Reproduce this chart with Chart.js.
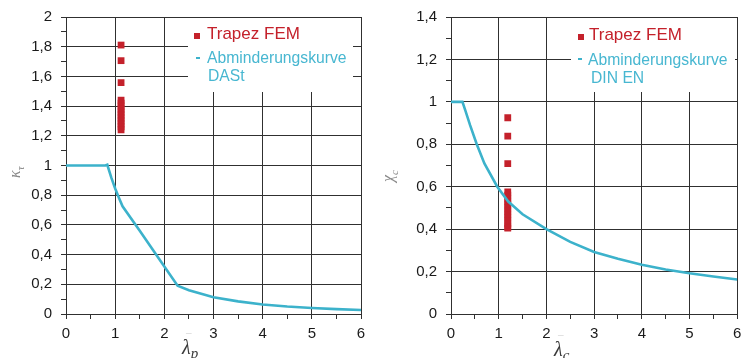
<!DOCTYPE html>
<html><head><meta charset="utf-8">
<script src="https://cdn.jsdelivr.net/npm/chart.js@4"></script>
<style>
html,body{margin:0;padding:0;background:#fff;width:742px;height:358px;overflow:hidden}
.c{position:absolute;top:0;width:371px;height:358px}
</style></head><body>
<div class="c" style="left:0"><canvas id="c1" width="371" height="358"></canvas></div>
<div class="c" style="left:371px"><canvas id="c2" width="371" height="358"></canvas></div>
<script>
// ---- data ----
const dastX = [0, 0.8, 0.84, 0.92, 1.0, 1.08, 1.15, 1.5, 2.0, 2.27, 2.5, 3.0, 3.5, 4.0, 4.5, 5.0, 5.5, 6.0];
const dastY = [1.0, 1.0, 1.005, 0.92, 0.845, 0.78, 0.725, 0.56, 0.32, 0.19, 0.16, 0.113, 0.085, 0.064, 0.05, 0.04, 0.033, 0.027];
const femLeftX = 1.12;
const femLeftY = [1.811, 1.706, 1.558, 1.44, 1.42, 1.40, 1.38, 1.36, 1.34, 1.32, 1.30, 1.28, 1.26, 1.24];

const enX = [0, 0.24, 0.3, 0.4, 0.54, 0.7, 0.97, 1.2, 1.5, 2.0, 2.5, 3.0, 3.5, 4.0, 4.5, 5.0, 5.5, 6.0];
const enY = [1.0, 1.0, 0.96, 0.89, 0.8, 0.71, 0.6, 0.53, 0.47, 0.4, 0.34, 0.292, 0.26, 0.232, 0.21, 0.192, 0.177, 0.163];
const femRightX = 1.19;
const femRightY = [0.925, 0.838, 0.709, 0.575, 0.56, 0.545, 0.53, 0.515, 0.50, 0.485, 0.47, 0.455, 0.44, 0.425, 0.41, 0.405];

const legendFEM = 'Trapez FEM';
const legendCurveLeft = ['Abminderungskurve', 'DASt'];
const legendCurveRight = ['Abminderungskurve', 'DIN EN'];
const xTickMax = 6;
const yMaxLeft = 2;
const yMaxRight = 1.4;

const RED = '#c4212b';
const CYAN = '#3cb2cb';
const CYAN_TXT = '#48b7d1';
const GRID = '#303030';

function fmt(v) {
  const r = Math.round(v * 10) / 10;
  return String(r).replace('.', ',');
}

function makeScales(yMax, yWidth) {
  return {
    x: {
      type: 'linear', min: 0, max: xTickMax,
      afterFit: s => { s.height = 44; s.paddingLeft = 0; s.paddingRight = 0; },
      ticks: {
        stepSize: 0.5, padding: 6, color: '#1a1a1a',
        font: { family: "'Liberation Sans', Arial, sans-serif", size: 15 },
        autoSkip: false, maxRotation: 0,
        callback: v => (Math.abs(v - Math.round(v)) < 1e-6 ? fmt(v) : '')
      },
      grid: {
        color: c => (c.tick && Math.abs(c.tick.value - Math.round(c.tick.value)) < 1e-6 ? GRID : 'rgba(0,0,0,0)'),
        tickColor: GRID, tickLength: 5, lineWidth: 1
      },
      border: { color: GRID, width: 1 }
    },
    y: {
      type: 'linear', min: 0, max: yMax,
      afterFit: s => { s.width = yWidth; s.paddingTop = 0; s.paddingBottom = 0; },
      ticks: {
        stepSize: 0.1, padding: 9, color: '#1a1a1a',
        font: { family: "'Liberation Sans', Arial, sans-serif", size: 15 },
        autoSkip: false,
        callback: v => (Math.round(v * 10) % 2 === 0 ? fmt(v) : '')
      },
      grid: {
        color: c => (c.tick && Math.round(c.tick.value * 10) % 2 === 0 ? GRID : 'rgba(0,0,0,0)'),
        tickColor: GRID, tickLength: 5, lineWidth: 1
      },
      border: { color: GRID, width: 1 }
    }
  };
}

function legendPlugin(cfg) {
  return {
    id: 'customLegend',
    beforeDatasetsDraw(chart) {
      const ctx = chart.ctx;
      ctx.save();
      ctx.fillStyle = '#fff';
      ctx.fillRect(cfg.box[0], cfg.box[1], cfg.box[2], cfg.box[3]);
      ctx.fillStyle = RED;
      ctx.fillRect(cfg.sq[0], cfg.sq[1], 6, 6);
      ctx.font = "17px 'Liberation Sans', Arial, sans-serif";
      ctx.textBaseline = 'alphabetic';
      ctx.textAlign = 'left';
      ctx.fillText(legendFEM, cfg.t1[0], cfg.t1[1]);
      ctx.fillStyle = CYAN;
      ctx.fillRect(cfg.dash[0], cfg.dash[1], 4, 2);
      ctx.fillStyle = CYAN_TXT;
      ctx.font = "15.7px 'Liberation Sans', Arial, sans-serif";
      ctx.fillText(cfg.lines[0], cfg.t2[0], cfg.t2[1]);
      ctx.fillText(cfg.lines[1], cfg.t3[0], cfg.t3[1]);
      ctx.restore();
    },
    afterDraw(chart) {
      const ctx = chart.ctx;
      ctx.save();
      // y axis title (rotated)
      ctx.translate(cfg.yt[0], cfg.yt[1]);
      ctx.rotate(-Math.PI / 2);
      ctx.fillStyle = '#8a8a8a';
      ctx.textBaseline = 'alphabetic';
      ctx.font = "italic " + cfg.ytSize + "px 'Liberation Serif', 'DejaVu Serif', serif";
      ctx.fillText(cfg.ySym, 0, 0);
      const w = ctx.measureText(cfg.ySym).width;
      ctx.font = "italic " + Math.round(cfg.ytSize * 0.7) + "px 'Liberation Serif', 'DejaVu Serif', serif";
      ctx.fillText(cfg.ySub, w, cfg.ytSubDy);
      ctx.restore();
      // x axis title
      ctx.save();
      ctx.fillStyle = '#3a3a3a';
      ctx.textBaseline = 'alphabetic';
      ctx.font = "italic 20px 'Liberation Serif', 'DejaVu Serif', serif";
      ctx.fillText('λ', cfg.xt[0], cfg.xt[1]);
      const lw = ctx.measureText('λ').width;
      ctx.font = "italic 15px 'Liberation Serif', 'DejaVu Serif', serif";
      ctx.fillText(cfg.xSub, cfg.xt[0] + lw, cfg.xt[1] + 4);
      ctx.fillStyle = '#c8c8c8';
      ctx.font = "10px 'Liberation Sans', Arial, sans-serif";
      ctx.fillText('¯', cfg.xt[0] + 4, cfg.xt[1] - 12);
      ctx.restore();
    }
  };
}

function pts(xs, ys) { return xs.map((x, i) => ({ x: x, y: ys[i] })); }
function col(x, ys) { return ys.map(y => ({ x: x, y: y })); }

function build(id, curve, femPts, yMax, yWidth, padRight, cfg) {
  return new Chart(document.getElementById(id), {
    type: 'scatter',
    data: {
      datasets: [
        { label: legendFEM, data: femPts, pointStyle: 'rect', pointRadius: 4.8,
          pointHoverRadius: 4.8, backgroundColor: RED, borderColor: RED, borderWidth: 0, order: 2 },
        { label: cfg.lines.join(' '), data: curve, showLine: true, borderColor: CYAN,
          borderWidth: 2.6, pointRadius: 0, tension: 0, fill: false, order: 1 }
      ]
    },
    options: {
      responsive: false, animation: false, devicePixelRatio: 1,
      layout: { padding: { left: 0, right: padRight, top: 17, bottom: 0 } },
      plugins: { legend: { display: false }, tooltip: { enabled: false } },
      scales: makeScales(yMax, yWidth)
    },
    plugins: [legendPlugin(cfg)]
  });
}

build('c1', pts(dastX, dastY), col(femLeftX, femLeftY), yMaxLeft, 66, 10, {
  box: [188, 18, 165, 74], sq: [194, 33], t1: [207, 39], dash: [196, 57], t2: [207, 63], t3: [208, 81],
  lines: legendCurveLeft, yt: [20, 178], ySym: 'κ', ySub: 'τ', ytSize: 16, ytSubDy: 4,
  xt: [182, 354], xSub: 'p'
});
build('c2', pts(enX, enY), col(femRightX, femRightY), yMaxRight, 80, 3, {
  box: [200, 18, 164, 74], sq: [207, 34], t1: [218, 40], dash: [207, 58], t2: [217, 65], t3: [220, 83],
  lines: legendCurveRight, yt: [22, 182], ySym: 'χ', ySub: 'c', ytSize: 16, ytSubDy: 5,
  xt: [183, 356], xSub: 'c'
});
</script>
</body></html>
